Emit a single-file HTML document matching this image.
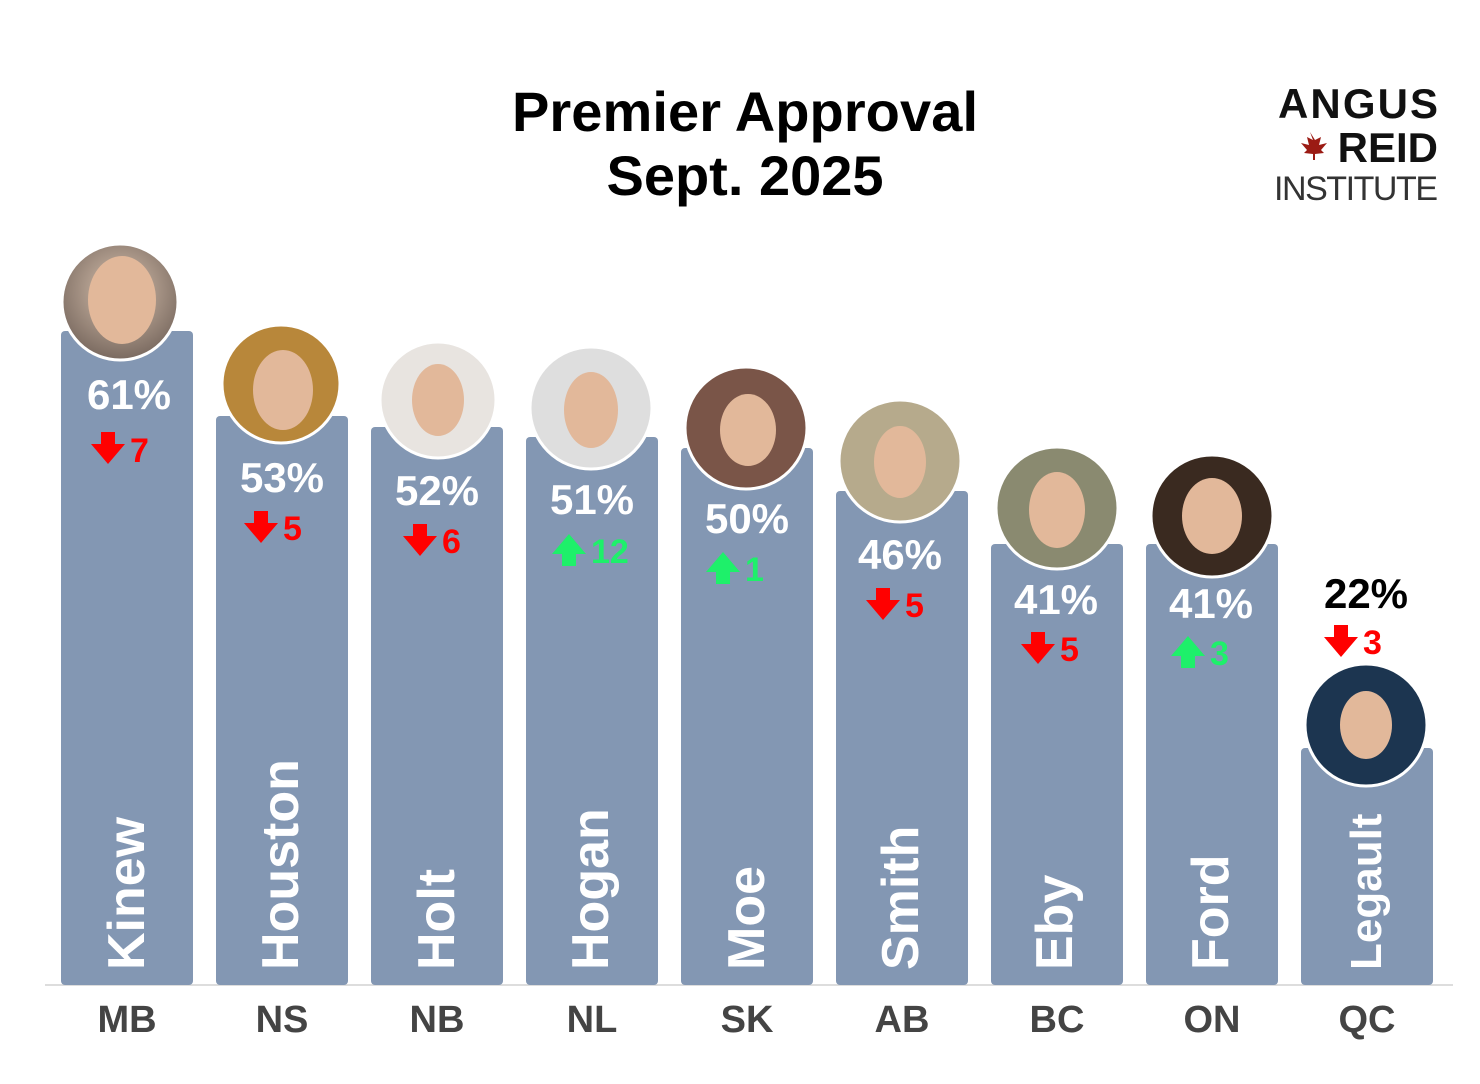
<!DOCTYPE html>
<html><head><style>
body{margin:0;background:#fff;}
svg{display:block;font-family:"Liberation Sans",sans-serif;}
</style></head><body>
<svg width="1480" height="1084" viewBox="0 0 1480 1084">
<defs>
<radialGradient id="bg" cx="50%" cy="40%" r="60%"><stop offset="0" stop-color="#d9c3b0"/><stop offset="1" stop-color="#7a6a60"/></radialGradient>
</defs>
<text x="745" y="131" font-size="56" font-weight="bold" text-anchor="middle" fill="#000" textLength="466">Premier Approval</text>
<text x="745" y="195" font-size="56" font-weight="bold" text-anchor="middle" fill="#000">Sept. 2025</text>
<text x="1438" y="118" font-size="42" font-weight="bold" text-anchor="end" fill="#111" textLength="160">ANGUS</text>
<text x="1438" y="162" font-size="42" font-weight="bold" text-anchor="end" fill="#111">REID</text>
<path d="M1310 132 l5 8 6-3 -2 8 8-2 -6 7 3 3 -9 1 v6 h-2 v-6 l-9-1 3-3 -6-7 8 2 -2-8 6 3z" fill="#9b1b14"/>
<text x="1438" y="200" font-size="34" text-anchor="end" fill="#333" textLength="164">INSTITUTE</text>
<line x1="45" y1="985" x2="1453" y2="985" stroke="#ddd" stroke-width="2"/>
<g fill="#8397b3">
<rect x="61" y="331" width="132" height="654" rx="4"/>
<rect x="216" y="416" width="132" height="569" rx="4"/>
<rect x="371" y="427" width="132" height="558" rx="4"/>
<rect x="526" y="437" width="132" height="548" rx="4"/>
<rect x="681" y="448" width="132" height="537" rx="4"/>
<rect x="836" y="491" width="132" height="494" rx="4"/>
<rect x="991" y="544" width="132" height="441" rx="4"/>
<rect x="1146" y="544" width="132" height="441" rx="4"/>
<rect x="1301" y="748" width="132" height="237" rx="4"/>
</g>
<g stroke="#fff" stroke-width="3">
<circle cx="120" cy="302" r="58" fill="url(#bg)"/>
<circle cx="281" cy="384" r="59" fill="#b8873a"/>
<circle cx="438" cy="400" r="58" fill="#e8e4e0"/>
<circle cx="591" cy="408" r="61" fill="#dedede"/>
<circle cx="746" cy="428" r="61" fill="#7a5548"/>
<circle cx="900" cy="461" r="61" fill="#b6aa8c"/>
<circle cx="1057" cy="508" r="61" fill="#8a8a70"/>
<circle cx="1212" cy="516" r="61" fill="#3a2a20"/>
<circle cx="1366" cy="725" r="61" fill="#1c3550"/>
</g>
<g fill="#e2b89a">
<ellipse cx="122" cy="300" rx="34" ry="44"/>
<ellipse cx="283" cy="390" rx="30" ry="40"/>
<ellipse cx="438" cy="400" rx="26" ry="36"/>
<ellipse cx="591" cy="410" rx="27" ry="38"/>
<ellipse cx="748" cy="430" rx="28" ry="36"/>
<ellipse cx="900" cy="462" rx="26" ry="36"/>
<ellipse cx="1057" cy="510" rx="28" ry="38"/>
<ellipse cx="1212" cy="516" rx="30" ry="38"/>
<ellipse cx="1366" cy="725" rx="26" ry="34"/>
</g>
<g font-weight="bold" font-size="42" text-anchor="middle" fill="#fff">
<text x="129" y="409">61%</text>
<text x="282" y="492">53%</text>
<text x="437" y="505">52%</text>
<text x="592" y="514">51%</text>
<text x="747" y="533">50%</text>
<text x="900" y="569">46%</text>
<text x="1056" y="614">41%</text>
<text x="1211" y="618">41%</text>
<text x="1366" y="608" fill="#000">22%</text>
</g>
<g font-weight="bold" font-size="34">
<path d="M101 432h14v12h10l-17 20-17-20h10z" fill="#f00"/><text x="130" y="462" fill="#f00">7</text>
<path d="M254 511h14v12h10l-17 20-17-20h10z" fill="#f00"/><text x="283" y="540" fill="#f00">5</text>
<path d="M413 524h14v12h10l-17 20-17-20h10z" fill="#f00"/><text x="442" y="553" fill="#f00">6</text>
<path d="M562 566h14v-12h10l-17-20-17 20h10z" fill="#1ef06a"/><text x="591" y="563" fill="#1ef06a">12</text>
<path d="M716 584h14v-12h10l-17-20-17 20h10z" fill="#1ef06a"/><text x="745" y="581" fill="#1ef06a">1</text>
<path d="M876 588h14v12h10l-17 20-17-20h10z" fill="#f00"/><text x="905" y="617" fill="#f00">5</text>
<path d="M1031 632h14v12h10l-17 20-17-20h10z" fill="#f00"/><text x="1060" y="661" fill="#f00">5</text>
<path d="M1181 668h14v-12h10l-17-20-17 20h10z" fill="#1ef06a"/><text x="1210" y="665" fill="#1ef06a">3</text>
<path d="M1334 625h14v12h10l-17 20-17-20h10z" fill="#f00"/><text x="1363" y="654" fill="#f00">3</text>
</g>
<g font-weight="bold" font-size="52" fill="#fff">
<text transform="translate(144,970) rotate(-90)">Kinew</text>
<text transform="translate(298,970) rotate(-90)">Houston</text>
<text transform="translate(454,970) rotate(-90)">Holt</text>
<text transform="translate(608,970) rotate(-90)">Hogan</text>
<text transform="translate(764,970) rotate(-90)">Moe</text>
<text transform="translate(918,970) rotate(-90)">Smith</text>
<text transform="translate(1072,970) rotate(-90)">Eby</text>
<text transform="translate(1228,970) rotate(-90)">Ford</text>
<text transform="translate(1381,970) rotate(-90)" font-size="44">Legault</text>
</g>
<g font-weight="bold" font-size="38" fill="#444" text-anchor="middle">
<text x="127" y="1032">MB</text>
<text x="282" y="1032">NS</text>
<text x="437" y="1032">NB</text>
<text x="592" y="1032">NL</text>
<text x="747" y="1032">SK</text>
<text x="902" y="1032">AB</text>
<text x="1057" y="1032">BC</text>
<text x="1212" y="1032">ON</text>
<text x="1367" y="1032">QC</text>
</g>
</svg>
</body></html>
